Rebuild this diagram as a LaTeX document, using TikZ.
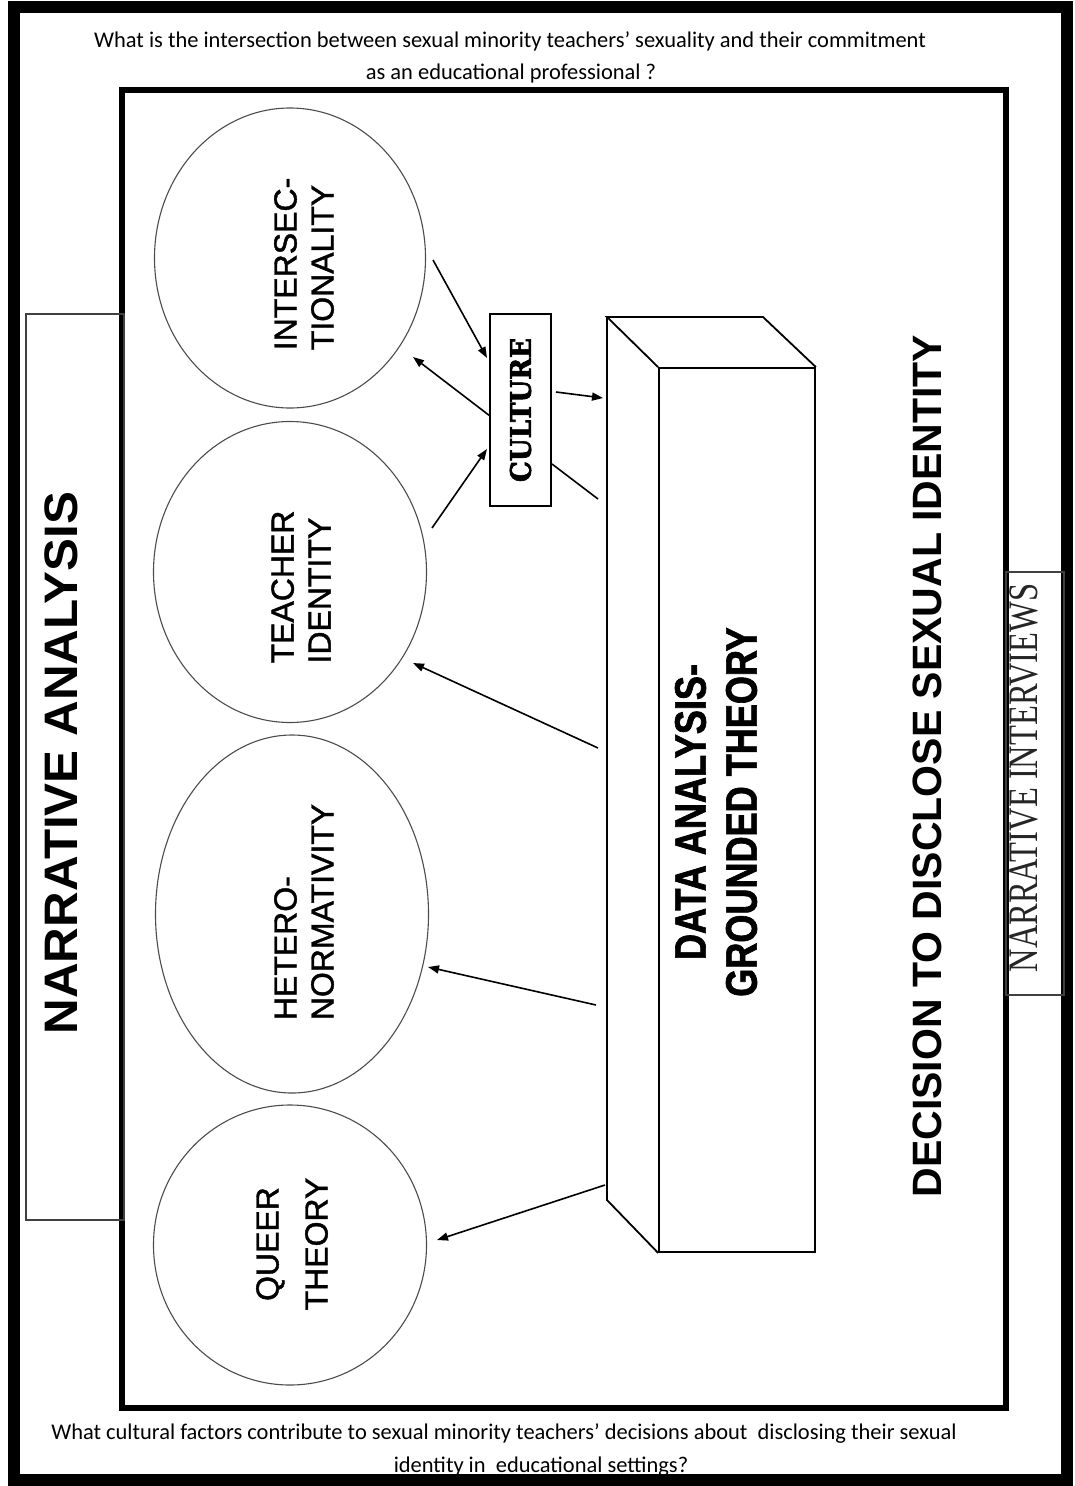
\documentclass[tikz,border=0pt]{standalone}
\usepackage{fontspec}
\setmainfont{Liberation Sans}
\newfontfamily\calib{Carlito}
\newfontfamily\ovalf{Liberation Sans}[FakeBold=1.3]
\newfontfamily\narrowb{Liberation Sans}[FakeStretch=0.82, FakeBold=1.5]
\newfontfamily\wideb{Liberation Sans}[FakeStretch=1.05]
\newfontfamily\tmsn{Liberation Serif}[FakeStretch=0.775]
\newfontfamily\heavyserif{DejaVu Serif}[FakeBold=2.5]
\usetikzlibrary{arrows.meta,shapes.geometric}
\begin{document}
\begin{tikzpicture}[x=1pt,y=-1pt,
  oval/.style={draw=black!70, line width=1.1pt, ellipse, inner sep=0pt},
  ovaltext/.style={rotate=90, align=left, inner sep=0pt, font=\ovalf\fontsize{32}{37}\selectfont},
  conn/.style={line width=1.6pt, -{Triangle[length=11pt,width=8pt]}},
  bare/.style={line width=1.6pt},
  qtext/.style={font=\calib\fontsize{22.45}{26}\selectfont, anchor=base, inner sep=0pt},
  boxline/.style={line width=1.8pt, line join=miter},
  sidebox/.style={draw=black!75, line width=1.2pt, inner sep=0pt},
]
\useasboundingbox (0,0) rectangle (1074,1486);
\fill[white] (0,0) rectangle (1074,1486);
% frames
\node[draw, line width=12pt, minimum width=1053pt, minimum height=1473pt, inner sep=0pt] (outer) at (540.5,743.5) {};
\node[draw, line width=6pt, minimum width=884pt, minimum height=1318pt, inner sep=0pt] (inner) at (564,749) {};
% questions
\node[qtext] (q1a) at (510,47) {What is the intersection between sexual minority teachers’ sexuality and their commitment};
\node[qtext] (q1b) at (511,79) {as an educational professional ?};
\node[qtext] (q2a) at (504,1439) {What cultural factors contribute to sexual minority teachers’ decisions about\ \ disclosing their sexual};
\node[qtext] (q2b) at (541,1472) {identity in\ \ educational settings?};
% side boxes
\node[sidebox, minimum width=98pt, minimum height=906pt] (nabox) at (75,767) {};
\node[rotate=90, inner sep=0pt, font=\wideb\bfseries\fontsize{47}{47}\selectfont] (natext) at (61,763) {NARRATIVE ANALYSIS};
\node[sidebox, minimum width=58pt, minimum height=423pt] (nibox) at (1035,783.5) {};
\node[rotate=90, inner sep=0pt, text=black!85, font=\tmsn\fontsize{42}{42}\selectfont] (nitext) at (1024,778) {NARRATIVE INTERVIEWS};
% ovals
\node[oval, minimum width=271pt, minimum height=300pt] (intersec) at (290,258) {};
\node[ovaltext] (intersect) at (304,264) {INTERSEC-\\TIONALITY};
\node[oval, minimum width=273pt, minimum height=301pt] (teacher) at (290,572) {};
\node[ovaltext] (teachert) at (301,587) {TEACHER\\IDENTITY};
\node[oval, minimum width=273pt, minimum height=358pt] (hetero) at (292,914) {};
\node[ovaltext] (heterot) at (304,912) {HETERO-\\NORMATIVITY};
\node[oval, minimum width=273pt, minimum height=280pt] (queer) at (290,1245) {};
\node[rotate=90, align=center, inner sep=0pt, font=\ovalf\fontsize{32}{49}\selectfont] (queert) at (292,1244) {QUEER\\THEORY};
% culture
\node[draw, line width=1.8pt, rotate=90, minimum width=192pt, minimum height=61pt, inner sep=0pt] (culture) at (520.5,410) {\resizebox{144pt}{21pt}{\heavyserif\bfseries CULTURE}};
% 3D box
\node[draw, boxline, minimum width=156pt, minimum height=884pt, inner sep=0pt] (front) at (737,810) {};
\coordinate (bTL) at (607,317);
\coordinate (bTR) at (763,317);
\coordinate (bBL) at (607,1200);
\draw[boxline] (front.north west) -- (bTL) -- (bTR) -- (front.north east);
\draw[boxline] (bTL) -- (bBL) -- (front.south west);
\node[rotate=90, align=center, inner sep=0pt, font=\narrowb\bfseries\fontsize{44}{51}\selectfont] (datext) at (716,812) {DATA ANALYSIS-\\GROUNDED THEORY};
\node[rotate=90, inner sep=0pt, font=\bfseries\fontsize{41}{41}\selectfont] (decision) at (927,766) {DECISION TO DISCLOSE SEXUAL IDENTITY};
% connector end points
\coordinate (a1s) at (433,260);
\coordinate (a1e) at (487,358);
\coordinate (a2s) at (490,416);
\coordinate (a2e) at (413,357);
\coordinate (a3s) at (432,528);
\coordinate (a3e) at (487,449);
\coordinate (a4s) at (556,392);
\coordinate (a4e) at (603,398);
\coordinate (l5s) at (552,464);
\coordinate (l5e) at (598,499);
\coordinate (a6s) at (598,748);
\coordinate (a6e) at (413,663);
\coordinate (a7s) at (596,1005);
\coordinate (a7e) at (428,967);
\coordinate (a8s) at (605,1185);
\coordinate (a8e) at (437,1240);
\draw[conn] (a1s) -- (a1e);
\draw[conn] (a2s) -- (a2e);
\draw[conn] (a3s) -- (a3e);
\draw[conn] (a4s) -- (a4e);
\draw[bare] (l5s) -- (l5e);
\draw[conn] (a6s) -- (a6e);
\draw[conn] (a7s) -- (a7e);
\draw[conn] (a8s) -- (a8e);
\end{tikzpicture}
\end{document}
